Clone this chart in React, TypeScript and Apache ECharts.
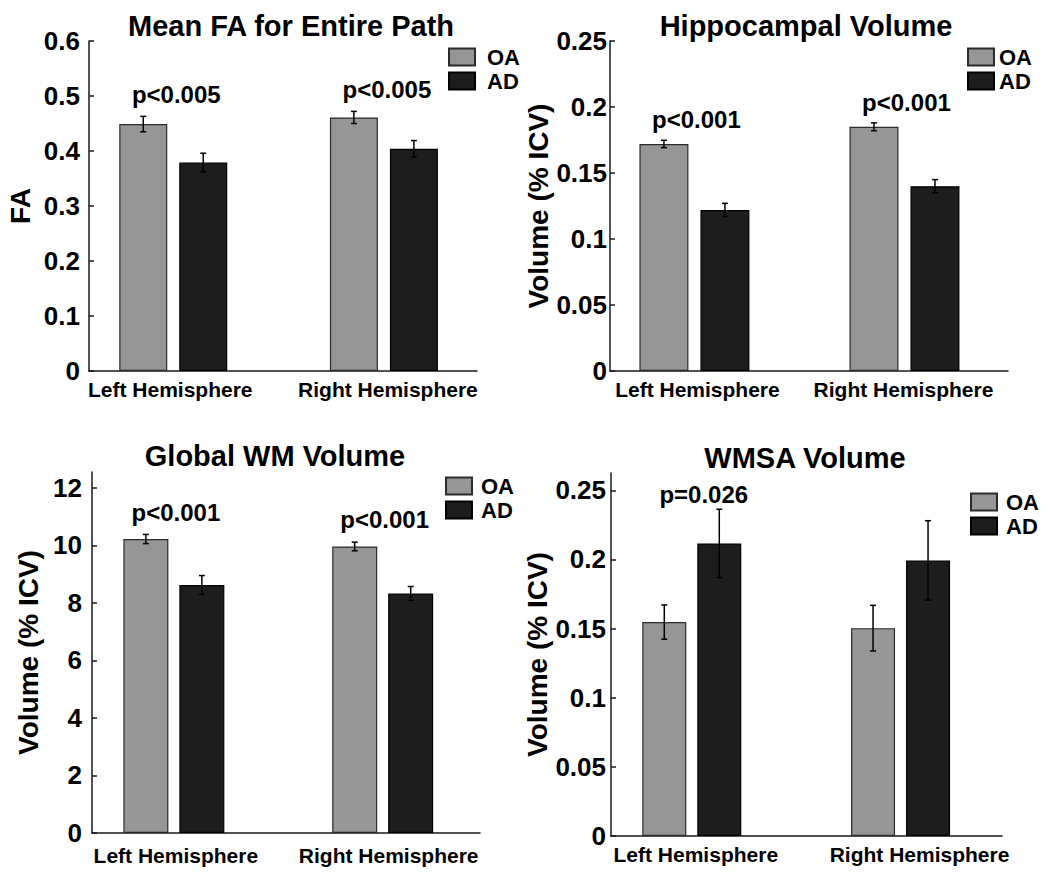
import React, { useEffect, useRef } from 'react';
import * as echarts from 'echarts';

// ---------- data ----------
const categories = ['Left Hemisphere', 'Right Hemisphere'];
const groupNames = ['OA', 'AD'];
const categoryX = [1, 2];

// Mean FA for Entire Path
const faOA = [0.449, 0.461];
const faAD = [0.379, 0.404];
const faOAErr = [0.014, 0.011];
const faADErr = [0.017, 0.015];
const faTicks = [0, 0.1, 0.2, 0.3, 0.4, 0.5, 0.6];
const faP = ['p<0.005', 'p<0.005'];

// Hippocampal Volume
const hipOA = [0.172, 0.185];
const hipAD = [0.122, 0.140];
const hipOAErr = [0.0028, 0.003];
const hipADErr = [0.005, 0.005];
const hipTicks = [0, 0.05, 0.1, 0.15, 0.2, 0.25];
const hipP = ['p<0.001', 'p<0.001'];

// Global WM Volume
const wmOA = [10.22, 9.96];
const wmAD = [8.62, 8.33];
const wmOAErr = [0.16, 0.15];
const wmADErr = [0.33, 0.24];
const wmTicks = [0, 2, 4, 6, 8, 10, 12];
const wmP = ['p<0.001', 'p<0.001'];

// WMSA Volume
const wmsaOA = [0.1547, 0.1503];
const wmsaAD = [0.2116, 0.1993];
const wmsaOAErr = [0.0124, 0.0165];
const wmsaADErr = [0.0247, 0.0287];
const wmsaTicks = [0, 0.05, 0.1, 0.15, 0.2, 0.25];
const wmsaP = ['p=0.026', ''];

// ---------- styles / layout ----------
const FONT = '"Liberation Sans", Arial, Helvetica, sans-serif';
const OA_COLOR = '#969696';
const AD_COLOR = '#1d1d1d';
const AXIS_COLOR = '#1a1a1a';

const panels = [
  {
    title: 'Mean FA for Entire Path', yName: 'FA',
    oa: faOA, ad: faAD, oaErr: faOAErr, adErr: faADErr, ticks: faTicks, yMax: 0.6, p: faP,
    grid: { left: 89, top: 41, width: 388, height: 330 },
    xMin: 0.6, xMax: 2.442, barWidth: 48, barGapPx: 12,
    titleX: 291, titleY: 11, legendLeft: 448, legendTop: 46, legendPad: 7,
    labelMargin: 9, nameGap: 55, xLabelMargin: 8, xLabelDx: [-3, 4], pGap: 14, pDx: 3,
  },
  {
    title: 'Hippocampal Volume', yName: 'Volume (% ICV)',
    oa: hipOA, ad: hipAD, oaErr: hipOAErr, adErr: hipADErr, ticks: hipTicks, yMax: 0.25, p: hipP,
    grid: { left: 610, top: 41, width: 398, height: 330 },
    xMin: 0.598, xMax: 2.493, barWidth: 49, barGapPx: 12,
    titleX: 806, titleY: 11, legendLeft: 967, legendTop: 46, legendPad: 0,
    labelMargin: 3, nameGap: 57, xLabelMargin: 8, xLabelDx: [3, -1], pGap: 12, pDx: 2,
  },
  {
    title: 'Global WM Volume', yName: 'Volume (% ICV)',
    oa: wmOA, ad: wmAD, oaErr: wmOAErr, adErr: wmADErr, ticks: wmTicks, yMax: 12.55, p: wmP,
    grid: { left: 92, top: 472, width: 388, height: 361 },
    xMin: 0.608, xMax: 2.466, barWidth: 45, barGapPx: 11,
    titleX: 275, titleY: 441, legendLeft: 445, legendTop: 475, legendPad: 4,
    labelMargin: 10, nameGap: 50, xLabelMargin: 12, xLabelDx: [2, 6], pGap: 14, pDx: 2,
  },
  {
    title: 'WMSA Volume', yName: 'Volume (% ICV)',
    oa: wmsaOA, ad: wmsaAD, oaErr: wmsaOAErr, adErr: wmsaADErr, ticks: wmsaTicks, yMax: 0.2625, p: wmsaP,
    grid: { left: 611, top: 473, width: 391, height: 363 },
    xMin: 0.613, xMax: 2.486, barWidth: 44, barGapPx: 11,
    titleX: 805, titleY: 443, legendLeft: 970, legendTop: 491, legendPad: 4,
    labelMargin: 5, nameGap: 58, xLabelMargin: 8, xLabelDx: [4, 19], pGap: 6, pDx: 12,
  },
];

function buildOption() {
  const grid: any[] = [];
  const xAxis: any[] = [];
  const yAxis: any[] = [];
  const series: any[] = [];
  const title: any[] = [];
  const legend: any[] = [];

  panels.forEach((p, k) => {
    grid.push({ ...p.grid, containLabel: false });
    title.push({
      text: p.title, left: p.titleX, top: p.titleY, textAlign: 'center', padding: 0,
      textStyle: { fontSize: 29, fontWeight: 'bold', color: '#000', fontFamily: FONT },
    });
    legend.push({
      data: groupNames, orient: 'vertical', left: p.legendLeft, top: p.legendTop,
      itemWidth: 26, itemHeight: 17, itemGap: 2, padding: 0, selectedMode: false, icon: 'rect',
      textStyle: {
        fontSize: 22, lineHeight: 20, fontWeight: 'bold', color: '#000', fontFamily: FONT,
        padding: [0, 0, 0, p.legendPad],
      },
    });
    const labelRich: any = {};
    p.xLabelDx.forEach((dx, i) => {
      labelRich['c' + i] = {
        fontSize: 21, fontWeight: 'bold', color: '#000', fontFamily: FONT,
        padding: dx >= 0 ? [0, 0, 0, 2 * dx] : [0, -2 * dx, 0, 0],
      };
    });
    xAxis.push({
      type: 'value', gridIndex: k, min: p.xMin, max: p.xMax,
      splitLine: { show: false },
      axisLine: { show: true, onZero: false, lineStyle: { color: AXIS_COLOR, width: 1.5 } },
      axisTick: { show: false },
      axisLabel: {
        customValues: categoryX,
        formatter: (v: number) => {
          const i = categoryX.indexOf(v);
          return i < 0 ? '' : `{c${i}|${categories[i]}}`;
        },
        rich: labelRich,
        fontSize: 21, fontWeight: 'bold', color: '#000', fontFamily: FONT, margin: p.xLabelMargin,
      },
    });
    yAxis.push({
      type: 'value', gridIndex: k, min: 0, max: p.yMax,
      name: p.yName, nameLocation: 'middle', nameGap: p.nameGap, nameRotate: 90,
      nameTextStyle: { fontSize: 28, fontWeight: 'bold', color: '#000', fontFamily: FONT },
      splitLine: { show: false },
      axisLine: { show: true, lineStyle: { color: AXIS_COLOR, width: 1.5 } },
      axisTick: { show: true, inside: true, length: 5, customValues: p.ticks, lineStyle: { color: AXIS_COLOR, width: 1.5 } },
      axisLabel: {
        customValues: p.ticks, fontSize: 26, fontWeight: 'bold', color: '#000', fontFamily: FONT, margin: p.labelMargin,
      },
    });

    const gapPct = ((p.barGapPx / p.barWidth) * 100).toFixed(1) + '%';
    const half = (p.barWidth + p.barGapPx) / 2;
    const groupsData = [
      { name: 'OA', vals: p.oa, errs: p.oaErr, color: OA_COLOR, border: '#2b2b2b', dx: -half },
      { name: 'AD', vals: p.ad, errs: p.adErr, color: AD_COLOR, border: '#000', dx: half },
    ];
    groupsData.forEach((g) => {
      series.push({
        type: 'bar', name: g.name, xAxisIndex: k, yAxisIndex: k,
        data: categoryX.map((x, i) => [x, g.vals[i]]),
        barWidth: p.barWidth, barGap: gapPct,
        itemStyle: { color: g.color, borderColor: g.border, borderWidth: 1.2 },
        silent: true,
      });
    });
    groupsData.forEach((g) => {
      const dx = g.dx;
      series.push({
        type: 'custom', xAxisIndex: k, yAxisIndex: k, z: 5, silent: true,
        data: categoryX.map((x, i) => [x, g.vals[i] - g.errs[i], g.vals[i] + g.errs[i]]),
        renderItem: (_params: any, api: any) => {
          const lo = api.coord([api.value(0), api.value(1)]);
          const hi = api.coord([api.value(0), api.value(2)]);
          const x = lo[0] + dx;
          const cap = 3;
          const st = { stroke: '#000', lineWidth: 1.5 };
          return {
            type: 'group',
            children: [
              { type: 'line', shape: { x1: x, y1: lo[1], x2: x, y2: hi[1] }, style: st },
              { type: 'line', shape: { x1: x - cap, y1: lo[1], x2: x + cap, y2: lo[1] }, style: st },
              { type: 'line', shape: { x1: x - cap, y1: hi[1], x2: x + cap, y2: hi[1] }, style: st },
            ],
          };
        },
      });
    });
    // p-value annotations anchored above the highest error bar of each group
    series.push({
      type: 'custom', xAxisIndex: k, yAxisIndex: k, z: 6, silent: true,
      data: categoryX.map((x, i) => [x, Math.max(p.oa[i] + p.oaErr[i], p.ad[i] + p.adErr[i]), i]),
      renderItem: (_params: any, api: any) => {
        const i = api.value(2);
        const pt = api.coord([api.value(0), api.value(1)]);
        return {
          type: 'text',
          x: pt[0] + p.pDx,
          y: pt[1] - p.pGap + 3.7,
          style: {
            text: p.p[i], fill: '#000', align: 'center', verticalAlign: 'bottom',
            font: `bold 24px ${FONT}`,
          },
        };
      },
    });
  });

  return {
    animation: false,
    backgroundColor: '#fff',
    textStyle: { fontFamily: FONT },
    title, legend, grid, xAxis, yAxis, series,
  };
}

export default function App() {
  const ref = useRef<HTMLDivElement | null>(null);
  useEffect(() => {
    if (!ref.current) return;
    const chart = echarts.init(ref.current, undefined, { renderer: 'svg' });
    chart.setOption(buildOption() as any);
    return () => chart.dispose();
  }, []);
  return (
    <div
      ref={ref}
      style={{ position: 'fixed', left: 0, top: 0, width: 1050, height: 874, background: '#fff' }}
    />
  );
}
